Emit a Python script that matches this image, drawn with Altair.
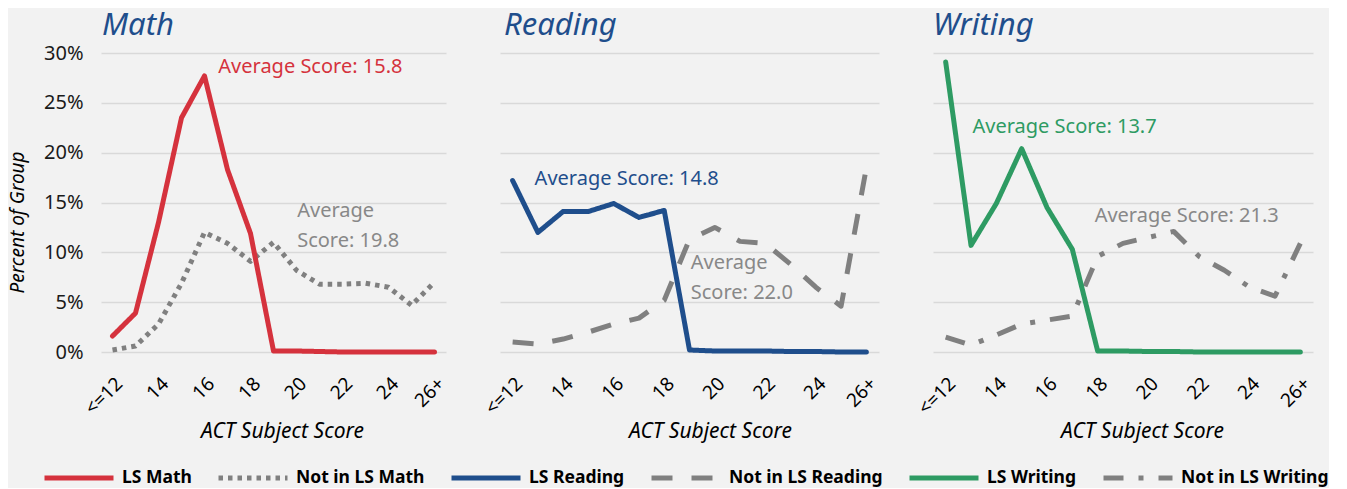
import altair as alt
import pandas as pd

# ---- data (percent of group) ----
scores = list(range(12, 27))  # 12 = "<=12", 26 = "26+"
x_tick_values = [12, 14, 16, 18, 20, 22, 24, 26]
x_tick_labels = ["<=12", "14", "16", "18", "20", "22", "24", "26+"]
y_tick_values = [0, 5, 10, 15, 20, 25, 30]

math_ls = [1.6, 3.9, 13.0, 23.5, 27.7, 18.3, 11.9, 0.1, 0.1, 0.05, 0.0, 0.0, 0.0, 0.0, 0.0]
math_not = [0.2, 0.6, 2.8, 6.9, 12.0, 10.9, 9.1, 11.0, 8.2, 6.8, 6.8, 6.9, 6.5, 4.7, 7.0]
reading_ls = [17.2, 12.0, 14.1, 14.1, 14.9, 13.5, 14.2, 0.2, 0.1, 0.1, 0.1, 0.05, 0.05, 0.0, 0.0]
reading_not = [1.0, 0.8, 1.3, 2.0, 2.8, 3.4, 5.2, 11.3, 12.5, 11.1, 10.9, 8.8, 6.5, 4.6, 18.5]
writing_ls = [29.1, 10.7, 14.9, 20.4, 14.5, 10.3, 0.1, 0.1, 0.05, 0.05, 0.0, 0.0, 0.0, 0.0, 0.0]
writing_not = [1.5, 0.7, 1.7, 2.8, 3.2, 3.6, 9.6, 10.9, 11.5, 12.1, 9.6, 8.2, 6.5, 5.6, 10.9]

series_names = ["LS Math", "Not in LS Math", "LS Reading", "Not in LS Reading",
                "LS Writing", "Not in LS Writing"]
series_colors = ["#d5323d", "#808080", "#1f4e8c", "#808080", "#2e9b63", "#808080"]
series_dashes = [[1, 0], [4.5, 5], [1, 0], [21, 19], [1, 0], [20, 15, 5, 15]]

# annotations: text, x (score units), y (percent, first line centre)
math_note_text = ["Average Score: 15.8", "Average\nScore: 19.8"]
math_note_x = [16.6, 20.03]
math_note_y = [28.6, 14.1]
reading_note_text = ["Average Score: 14.8", "Average\nScore: 22.0"]
reading_note_x = [12.87, 19.05]
reading_note_y = [17.4, 8.9]
writing_note_text = ["Average Score: 13.7", "Average Score: 21.3"]
writing_note_x = [13.06, 17.88]
writing_note_y = [22.6, 13.6]

FONT = "Noto Sans"
TITLE_BLUE = "#1f4e8c"
NOTE_GRAY = "#888888"

label_expr = " : ".join(
    f"datum.value == {v} ? '{l}'" for v, l in zip(x_tick_values, x_tick_labels)
) + " : datum.label"

color_scale = alt.Scale(domain=series_names, range=series_colors)
dash_scale = alt.Scale(domain=series_names, range=series_dashes)

legend = alt.Legend(
    orient="none", legendX=-59, legendY=388, direction="horizontal", columns=6,
    title=None, symbolType="stroke", symbolSize=4761, symbolStrokeWidth=5,
    labelFontSize=17.5, labelFontWeight="bold", labelColor="#000000", labelFont=FONT,
    labelOffset=6, columnPadding=16, labelLimit=300,
)


def panel(title, ls_vals, not_vals, ls_name, not_name, width, notes, note_colors,
          show_y, title_x, title_offset, title_dx):
    df = pd.DataFrame({
        "score": scores * 2,
        "pct": list(not_vals) + list(ls_vals),
        "series": [not_name] * len(scores) + [ls_name] * len(scores),
    })
    x_enc = alt.X(
        "score:Q",
        scale=alt.Scale(domain=[11.5, 26.5], nice=False, zero=False),
        axis=alt.Axis(
            values=x_tick_values, labelExpr=label_expr, labelAngle=-45,
            grid=False, ticks=False, domain=False, labelFontSize=19,
            labelColor="#000000", labelPadding=22, labelFont=FONT,
            title="ACT Subject Score", titleFontStyle="italic", titleFontWeight="normal",
            titleFontSize=21, titleColor="#000000", titleFont=FONT,
            titleX=title_x, titleY=79, titleBaseline="middle", titleAlign="center",
        ),
    )
    if show_y:
        y_axis = alt.Axis(
            values=y_tick_values, labelExpr="datum.value + '%'", grid=True,
            gridColor="#d9d9d9", gridWidth=1.5, ticks=False, domain=False,
            labelFontSize=20, labelColor="#1a1a1a", labelPadding=18, labelFont=FONT,
            title="Percent of Group", titleFontStyle="italic", titleFontWeight="normal",
            titleFontSize=19, titleColor="#000000", titleFont=FONT,
            titleX=-84, titleY=169, titleAngle=270, titleAlign="center",
            titleBaseline="middle",
        )
    else:
        y_axis = alt.Axis(
            values=y_tick_values, labels=False, grid=True, gridColor="#d9d9d9",
            gridWidth=1.5, ticks=False, domain=False, title=None,
        )
    y_enc = alt.Y("pct:Q", scale=alt.Scale(domain=[0, 30], nice=False), axis=y_axis)

    base = alt.Chart(df).encode(
        x=x_enc, y=y_enc,
        color=alt.Color("series:N", scale=color_scale, legend=legend),
        strokeDash=alt.StrokeDash("series:N", scale=dash_scale, legend=legend),
    )
    gray = base.transform_filter(alt.datum.series == not_name).mark_line(
        strokeWidth=5, strokeCap="butt", strokeJoin="round")
    colored = base.transform_filter(alt.datum.series == ls_name).mark_line(
        strokeWidth=5, strokeCap="round", strokeJoin="round")

    layers = [gray, colored]
    texts, xs, ys = notes
    for t, xv, yv, c in zip(texts, xs, ys, note_colors):
        tdf = pd.DataFrame({"score": [xv], "pct": [yv], "label": [t]})
        layers.append(
            alt.Chart(tdf).mark_text(
                align="left", baseline="middle", fontSize=20, font=FONT,
                lineBreak="\n", lineHeight=30, color=c,
            ).encode(x=x_enc, y=y_enc, text="label:N")
        )
    return alt.layer(*layers).properties(
        width=width, height=299,
        title=alt.TitleParams(
            title, anchor="start", frame="group", fontSize=31, fontStyle="italic",
            fontWeight="normal", color=TITLE_BLUE, font=FONT, offset=title_offset,
            dx=title_dx,
        ),
    )


math_p = panel("Math", math_ls, math_not, "LS Math", "Not in LS Math", 345,
               (math_note_text, math_note_x, math_note_y), ["#d5323d", NOTE_GRAY],
               True, 181, 1, 1)
reading_p = panel("Reading", reading_ls, reading_not, "LS Reading", "Not in LS Reading", 379,
                  (reading_note_text, reading_note_x, reading_note_y), [TITLE_BLUE, NOTE_GRAY],
                  False, 210, 11, 4)
writing_p = panel("Writing", writing_ls, writing_not, "LS Writing", "Not in LS Writing", 380,
                  (writing_note_text, writing_note_x, writing_note_y), ["#2e9b63", NOTE_GRAY],
                  False, 209, 11, 0)

chart = alt.hconcat(math_p, reading_p, writing_p, spacing=54, bounds="flush").properties(
    padding={"left": 0, "top": 2, "right": 0, "bottom": 0},
).configure(background="#f2f2f2", font=FONT).configure_view(stroke=None)

chart.save("out.html", embed_options={"renderer": "svg", "actions": False})
